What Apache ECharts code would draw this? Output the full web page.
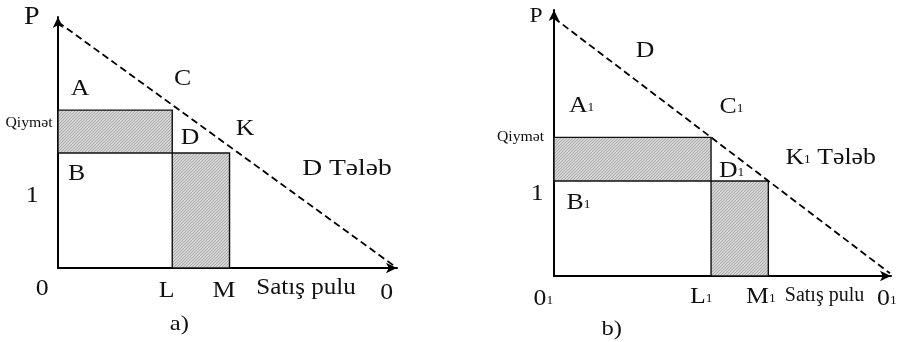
<!DOCTYPE html>
<html><head><meta charset="utf-8">
<script src="https://cdn.jsdelivr.net/npm/echarts@6/dist/echarts.min.js"></script>
<style>html,body{margin:0;padding:0;background:#fff}#c{width:902px;height:342px}</style>
</head><body><div id="c"></div>
<script>
// Panel a) data (abstract units 0..100)
const demandA = [[0, 98], [99, 1]];
const rectsA = [[0, 33.7, 45.8, 62.9], [33.7, 50.6, 0, 45.8]];
// Panel b) data
const demandB = [[0, 97], [99.7, 1]];
const rectsB = [[0, 46.6, 35.7, 52.1], [46.6, 63.6, 0, 35.7]];

const pc = document.createElement('canvas'); pc.width = 3; pc.height = 3;
const g = pc.getContext('2d');
g.fillStyle = '#d4d4d4'; g.fillRect(0, 0, 3, 3);
g.strokeStyle = '#a6a6a6'; g.lineWidth = 0.9;
g.beginPath();
g.moveTo(0, 3); g.lineTo(3, 0);
g.moveTo(-1, 1); g.lineTo(1, -1);
g.moveTo(2, 4); g.lineTo(4, 2);
g.stroke();

function renderRect(params, api) {
  const p0 = api.coord([api.value(0), api.value(3)]);
  const p1 = api.coord([api.value(1), api.value(2)]);
  return {
    type: 'rect',
    shape: { x: p0[0], y: p0[1], width: p1[0] - p0[0], height: p1[1] - p0[1] },
    style: { fill: { image: pc, repeat: 'repeat' }, stroke: '#111', lineWidth: 1.4 }
  };
}

function axisCfg(idx) {
  return {
    gridIndex: idx, type: 'value', min: 0, max: 100,
    axisLine: { show: true, onZero: false, symbol: ['none', 'arrow'], symbolSize: [8, 11],
      lineStyle: { color: '#000', width: 2 } },
    axisTick: { show: false }, axisLabel: { show: false }, splitLine: { show: false }
  };
}

const SERIF = '"Liberation Serif", "Times New Roman", serif';
function T(x, y, text, size, sx) {
  return { type: 'text', x: x, y: y, z: 100, scaleX: sx || 1.12,
    style: { text: text, fontSize: size, fontFamily: SERIF, fill: '#111',
      align: 'center', verticalAlign: 'middle' } };
}
function TS(x, y, main, sub, size, rest) {
  return { type: 'text', x: x, y: y, z: 100, scaleX: 1.12,
    style: { text: '{m|' + main + '}{s|' + sub + '}' + (rest ? '{m|' + rest + '}' : ''),
      align: 'left', verticalAlign: 'middle', fill: '#111',
      rich: { m: { fontSize: size, fontFamily: SERIF, fill: '#111' },
              s: { fontSize: 12, fontFamily: SERIF, fill: '#111', padding: [3, 0, 0, 0] } } } };
}

const chart = echarts.init(document.getElementById('c'), null, { renderer: 'canvas' });
chart.setOption({
  animation: false,
  backgroundColor: '#fff',
  grid: [
    { left: 58, top: 17, width: 339, height: 251 },
    { left: 554, top: 10, width: 337, height: 266 }
  ],
  xAxis: [axisCfg(0), axisCfg(1)],
  yAxis: [axisCfg(0), axisCfg(1)],
  series: [
    { type: 'custom', xAxisIndex: 0, yAxisIndex: 0, renderItem: renderRect, data: rectsA,
      encode: { x: [0, 1], y: [2, 3] }, z: 1 },
    { type: 'custom', xAxisIndex: 1, yAxisIndex: 1, renderItem: renderRect, data: rectsB,
      encode: { x: [0, 1], y: [2, 3] }, z: 1 },
    { type: 'line', xAxisIndex: 0, yAxisIndex: 0, data: demandA, symbol: 'none', z: 3,
      lineStyle: { color: '#000', width: 1.8, type: [7, 4] } },
    { type: 'line', xAxisIndex: 1, yAxisIndex: 1, data: demandB, symbol: 'none', z: 3,
      lineStyle: { color: '#000', width: 1.8, type: [7, 4] } }
  ],
  graphic: [
    // panel a
    T(31.7, 17, 'P', 25),
    T(80, 89, 'A', 23),
    T(182.7, 79, 'C', 23),
    T(29, 123, 'Qiymət', 15, 1.05),
    T(190, 138, 'D', 23),
    T(245, 129, 'K', 23),
    T(76.7, 174, 'B', 23),
    T(347, 169, 'D Tələb', 23, 1.2),
    T(32.3, 196, '1', 23),
    T(42.3, 289, '0', 23),
    T(166.7, 291, 'L', 23),
    T(224, 291, 'M', 23),
    T(306, 288, 'Satış pulu', 23, 1.09),
    T(386.7, 293, '0', 23),
    T(179.3, 324, 'a)', 22),
    // panel b
    T(536, 16, 'P', 21),
    T(645, 51, 'D', 23),
    TS(569, 106, 'A', '1', 23),
    TS(719.5, 107, 'C', '1', 23),
    T(520.5, 137, 'Qiymət', 15, 1.05),
    TS(785.5, 158, 'K', '1', 23, ' Tələb'),
    TS(719, 171, 'D', '1', 23),
    T(537.3, 194, '1', 23),
    TS(566.5, 203, 'B', '1', 23),
    TS(533.5, 299, '0', '1', 23),
    TS(690, 297, 'L', '1', 23),
    TS(746, 297, 'M', '1', 23),
    T(824.5, 296, 'Satış pulu', 20, 1),
    TS(877, 299, '0', '1', 23),
    T(611.7, 329, 'b)', 22)
  ]
});
</script>
</body></html>
